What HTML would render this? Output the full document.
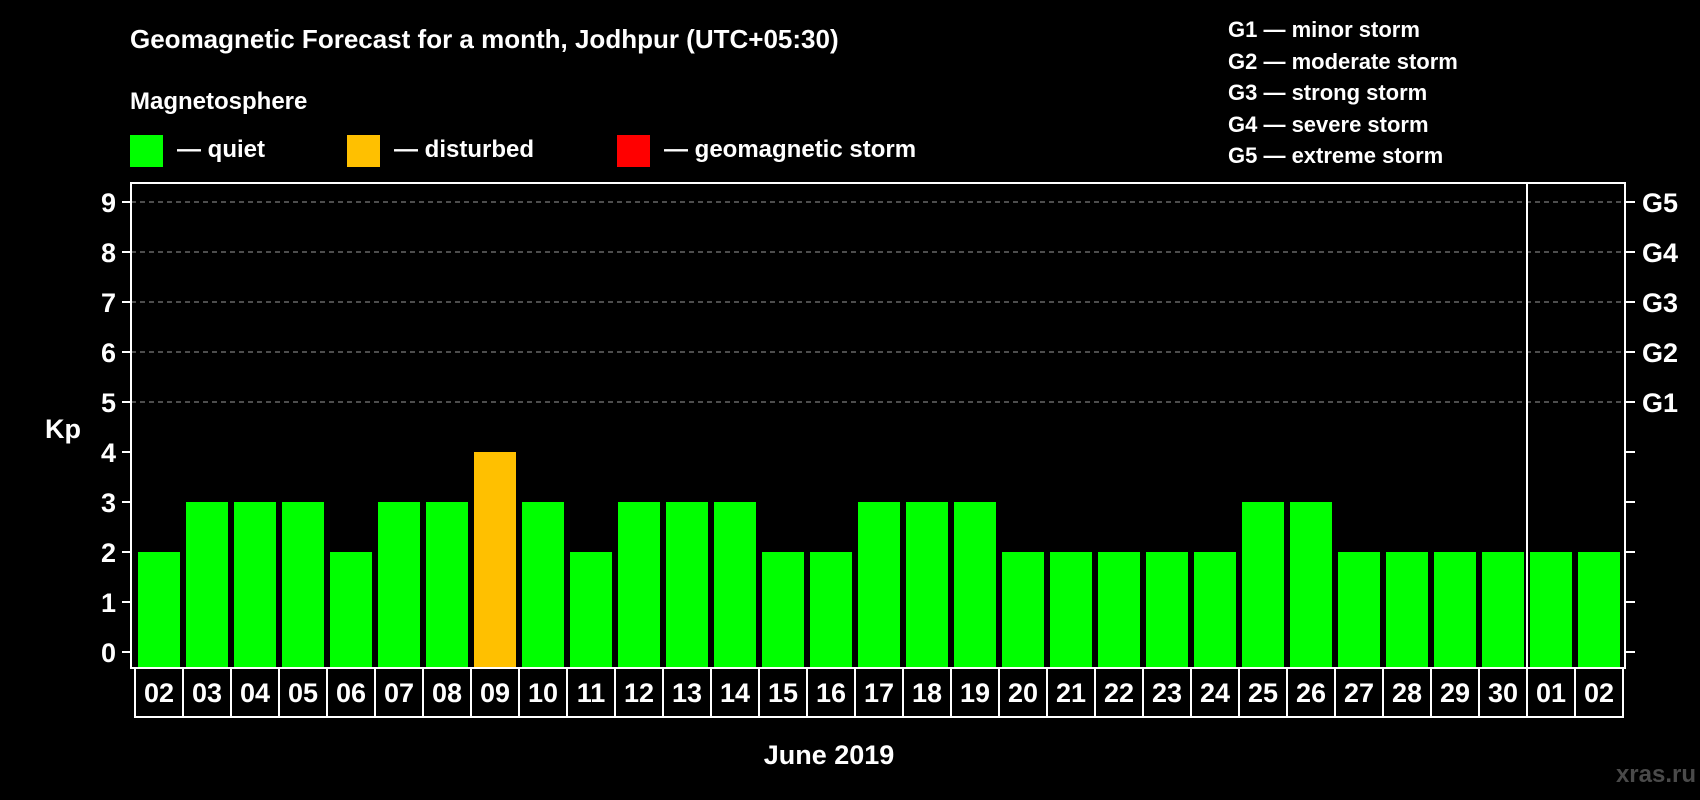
<!DOCTYPE html>
<html><head><meta charset="utf-8">
<style>
html,body{margin:0;padding:0;background:#000;width:1700px;height:800px;overflow:hidden}
svg{display:block;font-family:"Liberation Sans",Arial,sans-serif;font-weight:bold}
</style></head>
<body>
<svg id="chart" width="1700" height="800" viewBox="0 0 1700 800">
<rect width="1700" height="800" fill="#000"/>
<text x="130" y="48" font-size="26" fill="#fff">Geomagnetic Forecast for a month, Jodhpur (UTC+05:30)</text>
<text x="130" y="109" font-size="24" fill="#fff">Magnetosphere</text>
<g><rect x="130" y="135" width="33" height="32" fill="#00ff00"/><text x="177" y="157" font-size="24" fill="#fff">— quiet</text></g>
<g><rect x="347" y="135" width="33" height="32" fill="#ffc000"/><text x="394" y="157" font-size="24" fill="#fff">— disturbed</text></g>
<g><rect x="617" y="135" width="33" height="32" fill="#ff0000"/><text x="664" y="157" font-size="24" fill="#fff">— geomagnetic storm</text></g>
<g font-size="22" fill="#fff">
<text x="1228" y="37">G1 — minor storm</text>
<text x="1228" y="69">G2 — moderate storm</text>
<text x="1228" y="100">G3 — strong storm</text>
<text x="1228" y="132">G4 — severe storm</text>
<text x="1228" y="163">G5 — extreme storm</text>
</g>
<text x="63" y="438" font-size="27" fill="#fff" text-anchor="middle">Kp</text>
<text x="829" y="764" font-size="27" fill="#fff" text-anchor="middle">June 2019</text>
<text x="1696" y="782" font-size="24" fill="#4a4a4a" text-anchor="end">xras.ru</text>
<g id="plot"></g>
</svg>
<script>
const days = ["02","03","04","05","06","07","08","09","10","11","12","13","14","15","16","17","18","19","20","21","22","23","24","25","26","27","28","29","30","01","02"];
const kpValues = [2,3,3,3,2,3,3,4,3,2,3,3,3,2,2,3,3,3,2,2,2,2,2,3,3,2,2,2,2,2,2];
const yTicks = [0,1,2,3,4,5,6,7,8,9];
const gLabels = ["G1","G2","G3","G4","G5"];
const gLevels = [5,6,7,8,9];
const monthBreakIndex = 29;

const NS = "http://www.w3.org/2000/svg";
const plot = document.getElementById("plot");
const L = 131, R = 1625, T = 183, B = 668;
const x0 = 135, pitch = 48, barW = 42;
function yScale(v){ return 652 - v * 50; }
function xScale(i){ return x0 + i * pitch; }
function mk(tag, attrs){ const e = document.createElementNS(NS, tag); for (const k in attrs) e.setAttribute(k, attrs[k]); plot.appendChild(e); return e; }
function color(v){ return v >= 5 ? "#ff0000" : (v >= 4 ? "#ffc000" : "#00ff00"); }

gLevels.forEach((g, i) => {
  const y = yScale(g);
  const ln = mk("line", {x1: L, x2: R, y1: y, y2: y, stroke: "#9a9a9a", "stroke-width": 1, "stroke-dasharray": "5,4"});
  
  
});

kpValues.forEach((v, i) => {
  const r = mk("rect", {x: xScale(i) + 3, y: yScale(v), width: barW, height: B - yScale(v), fill: color(v)});
  
  
});

const frame = mk("rect", {x: L, y: T, width: R - L, height: B - T, fill: "none", stroke: "#fff", "stroke-width": 2});



const sepX = xScale(monthBreakIndex);
const sep = mk("line", {x1: sepX, x2: sepX, y1: T, y2: B, stroke: "#fff", "stroke-width": 2});



yTicks.forEach(t => {
  const y = yScale(t);
  const tk = mk("line", {x1: 122, x2: L, y1: y, y2: y, stroke: "#fff", "stroke-width": 2});
  
  
  const tr = mk("line", {x1: R, x2: 1635, y1: y, y2: y, stroke: "#fff", "stroke-width": 2});
  
  
  const lb = mk("text", {x: 116, y: y + 10, "font-size": 27, fill: "#fff", "text-anchor": "end"});
  lb.textContent = t;
  
  
});

gLevels.forEach((g, i) => {
  const lb = mk("text", {x: 1642, y: yScale(g) + 10, "font-size": 27, fill: "#fff"});
  lb.textContent = gLabels[i];
  
  
});

days.forEach((d, i) => {
  const bx = mk("rect", {x: xScale(i), y: B, width: pitch, height: 49, fill: "none", stroke: "#fff", "stroke-width": 2});
  
  
  const lb = mk("text", {x: xScale(i) + pitch / 2, y: 702, "font-size": 27, fill: "#fff", "text-anchor": "middle"});
  lb.textContent = d;
  
  
});
</script>
</body></html>
